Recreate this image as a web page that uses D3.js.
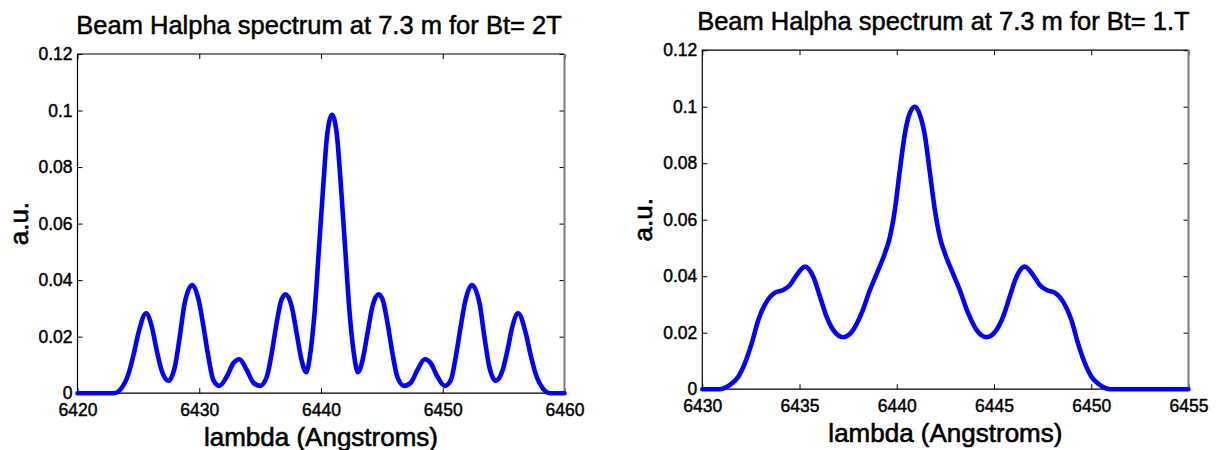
<!DOCTYPE html>
<html>
<head>
<meta charset="utf-8">
<script src="https://cdn.jsdelivr.net/npm/d3@7/dist/d3.min.js"></script>
<style>
  html, body { margin: 0; padding: 0; background: #fff; }
  svg { display: block; font-family: "Liberation Sans", Arial, Helvetica, sans-serif; }
  text { paint-order: stroke; stroke: #000; stroke-linejoin: round; }
</style>
</head>
<body>
<svg id="chart" width="1216" height="450"></svg>
<script>
// Beam H-alpha spectrum, Bt = 2 T
const lambda2T = [
  6420, 6423.0, 6423.6, 6424.2, 6424.6, 6425.0, 6425.63, 6426.1, 6426.5, 6426.9,
  6427.46, 6428.0, 6428.4, 6428.8, 6429.43, 6429.95, 6430.35, 6430.75, 6431.15, 6431.65,
  6432.25, 6432.8, 6433.3, 6433.9, 6434.45, 6435.0, 6435.55, 6435.95, 6436.35, 6436.75,
  6437.1, 6437.6, 6438.0, 6438.4, 6438.78, 6439.15, 6439.5, 6439.8, 6440.2, 6440.5,
  6440.91, 6441.3, 6441.62, 6442.02, 6442.32, 6442.67, 6443.04, 6443.42, 6443.82, 6444.22,
  6444.72, 6445.07, 6445.47, 6445.87, 6446.27, 6446.82, 6447.37, 6447.92, 6448.52, 6449.02,
  6449.57, 6450.17, 6450.67, 6451.07, 6451.47, 6451.87, 6452.39, 6453.02, 6453.42, 6453.82,
  6454.36, 6454.92, 6455.32, 6455.72, 6456.19, 6456.82, 6457.22, 6457.62, 6458.22, 6458.82,
  6460
];
const intensity2T = [
  0, 0, 0.0017, 0.0070, 0.0135, 0.0212, 0.0283, 0.0236, 0.0153, 0.0082,
  0.0044, 0.0094, 0.0200, 0.0318, 0.0383, 0.0330, 0.0235, 0.0129, 0.0047, 0.0026,
  0.0058, 0.0106, 0.0120, 0.0082, 0.0037, 0.0026, 0.0058, 0.0141, 0.0247, 0.0330,
  0.0350, 0.0306, 0.0212, 0.0118, 0.0074, 0.0150, 0.0300, 0.0490, 0.0743, 0.0912,
  0.0985, 0.0915, 0.0743, 0.0490, 0.0300, 0.0150, 0.0074, 0.0118, 0.0212, 0.0306,
  0.0350, 0.0330, 0.0247, 0.0141, 0.0058, 0.0026, 0.0037, 0.0082, 0.0120, 0.0106,
  0.0058, 0.0026, 0.0047, 0.0129, 0.0235, 0.0330, 0.0383, 0.0318, 0.0200, 0.0094,
  0.0044, 0.0082, 0.0153, 0.0236, 0.0283, 0.0212, 0.0135, 0.0070, 0.0017, 0,
  0
];

// Beam H-alpha spectrum, Bt = 1 T
const lambda1T = [
  6430, 6430.9, 6431.42, 6431.85, 6432.19, 6432.54, 6432.88, 6433.31, 6433.74, 6434.16,
  6434.51, 6434.85, 6435.28, 6435.70, 6436.05, 6436.39, 6436.73, 6437.25, 6437.76, 6438.19,
  6438.62, 6439.05, 6439.39, 6439.65, 6439.90, 6440.16, 6440.42, 6440.67, 6440.93, 6441.19,
  6441.45, 6441.70, 6441.96, 6442.21, 6442.47, 6442.81, 6443.24, 6443.67, 6444.10, 6444.61,
  6445.13, 6445.47, 6445.81, 6446.16, 6446.58, 6447.01, 6447.35, 6447.70, 6448.12, 6448.55,
  6448.98, 6449.32, 6449.67, 6450.01, 6450.44, 6450.96, 6455
];
const intensity1T = [
  0, 0, 0.0015, 0.0044, 0.0092, 0.0162, 0.0245, 0.0310, 0.0342, 0.0351,
  0.0369, 0.0404, 0.0434, 0.0399, 0.0328, 0.0257, 0.0210, 0.0184, 0.0210, 0.0269,
  0.0351, 0.0422, 0.0481, 0.0540, 0.0634, 0.0776, 0.0906, 0.0977, 0.1000, 0.0971,
  0.0896, 0.0768, 0.0634, 0.0540, 0.0481, 0.0422, 0.0351, 0.0269, 0.0210, 0.0184,
  0.0210, 0.0257, 0.0328, 0.0399, 0.0434, 0.0404, 0.0369, 0.0351, 0.0342, 0.0310,
  0.0245, 0.0162, 0.0092, 0.0044, 0.0015, 0, 0
];

// Axis ticks
const yTicks = [0, 0.02, 0.04, 0.06, 0.08, 0.1, 0.12];
const yTickLabels = ["0", "0.02", "0.04", "0.06", "0.08", "0.1", "0.12"];
const xTicks2T = [6420, 6430, 6440, 6450, 6460];
const xTicks1T = [6430, 6435, 6440, 6445, 6450, 6455];

const titles = ["Beam Halpha spectrum at 7.3 m for Bt= 2T", "Beam Halpha spectrum at 7.3 m for Bt= 1.T"];
const xLabel = "lambda (Angstroms)";
const yLabel = "a.u.";

const svg = d3.select("#chart");

function panel(opt) {
  const { left, right, top, bottom, xDomain, xTicks, lam, val, title } = opt;
  const x = d3.scaleLinear().domain(xDomain).range([left, right]);
  const y = d3.scaleLinear().domain([0, 0.12]).range([bottom, top]);
  const g = svg.append("g");

  // bottom axis with labels, ticks pointing inward
  const ax = g.append("g").attr("transform", `translate(0,${bottom})`)
    .call(d3.axisBottom(x).tickValues(xTicks).tickSizeInner(-5).tickSizeOuter(0)
      .tickPadding(10).tickFormat(d3.format("d")));
  // left axis with labels
  const ay = g.append("g").attr("transform", `translate(${left},0)`)
    .call(d3.axisLeft(y).tickValues(yTicks).tickSizeInner(-5).tickSizeOuter(0)
      .tickPadding(5).tickFormat((d, i) => yTickLabels[i]));
  // top and right ticks (no labels)
  const at = g.append("g").attr("transform", `translate(0,${top})`)
    .call(d3.axisTop(x).tickValues(xTicks).tickSizeInner(-5).tickSizeOuter(0).tickFormat(""));
  const ar = g.append("g").attr("transform", `translate(${right},0)`)
    .call(d3.axisRight(y).tickValues(yTicks).tickSizeInner(-5).tickSizeOuter(0).tickFormat(""));

  [ax, ay, at, ar].forEach(a => {
    a.select(".domain").remove();
    a.selectAll(".tick line").attr("stroke", "#000").attr("stroke-width", 1);
    a.selectAll(".tick text").attr("fill", "#000").style("font-size", "17.5px")
      .style("stroke-width", "0.45px")
      .style("font-family", "\"Liberation Sans\", Arial, sans-serif");
  });

  // axes box
  g.append("path")
    .attr("d", `M${right},${bottom}H${left}V${top}H${right}`)
    .attr("fill", "none").attr("stroke", "#000").attr("stroke-width", 1.2);
  g.append("line")
    .attr("x1", right).attr("x2", right).attr("y1", top).attr("y2", bottom)
    .attr("stroke", "#7a7a7a").attr("stroke-width", 2);

  // spectrum
  const pts = lam.map((l, i) => [l, val[i]]);
  g.append("path")
    .datum(pts)
    .attr("fill", "none")
    .attr("stroke", "#0000ff")
    .attr("stroke-width", 4.6)
    .attr("stroke-linejoin", "round")
    .attr("stroke-linecap", "round")
    .attr("d", d3.line().x(d => x(d[0])).y(d => y(d[1])).curve(d3.curveMonotoneX));

  const cx = (left + right) / 2;
  g.append("text")
    .attr("x", cx - 2).attr("y", top - 20)
    .attr("text-anchor", "middle")
    .style("font-size", "25.5px").style("stroke-width", "0.5px").attr("fill", "#000")
    .text(title);
  g.append("text")
    .attr("x", cx).attr("y", bottom + 53)
    .attr("text-anchor", "middle")
    .style("font-size", "26px").style("stroke-width", "0.6px").attr("fill", "#000")
    .text(xLabel);
  g.append("text")
    .attr("transform", `translate(${left - 50},${(top + bottom) / 2}) rotate(-90)`)
    .attr("text-anchor", "middle")
    .style("font-size", "26px").style("stroke-width", "0.6px").attr("fill", "#000")
    .text(yLabel);
}

panel({ left: 77.5, right: 564.5, top: 54, bottom: 393.2,
        xDomain: [6420, 6460], xTicks: xTicks2T, lam: lambda2T, val: intensity2T, title: titles[0] });
panel({ left: 702.3, right: 1188.5, top: 50.2, bottom: 389.2,
        xDomain: [6430, 6455], xTicks: xTicks1T, lam: lambda1T, val: intensity1T, title: titles[1] });
</script>
</body>
</html>
